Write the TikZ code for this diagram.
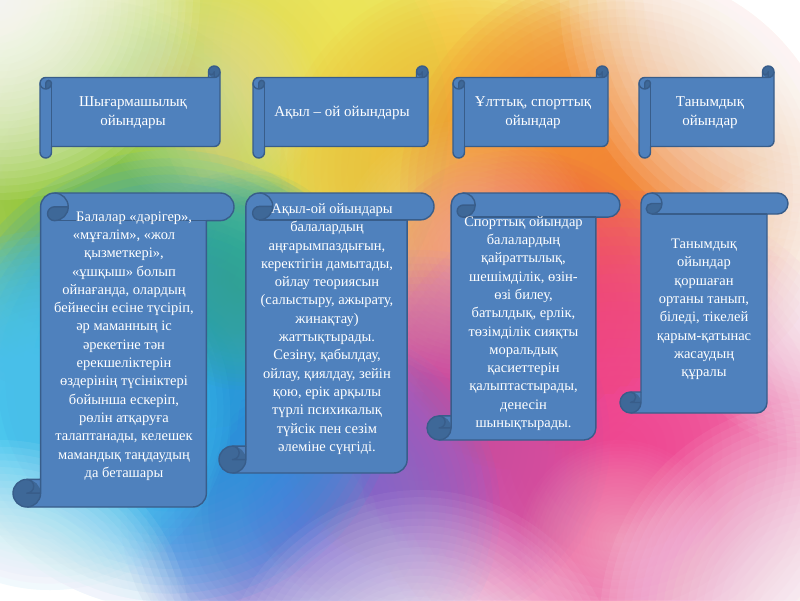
\documentclass[tikz,border=0pt]{standalone}
\usepackage{fontspec}
\setmainfont{Liberation Serif}
\definecolor{scrollblue}{HTML}{4F81BD}
\definecolor{scrollline}{HTML}{385D8A}
\definecolor{scrolldark}{HTML}{3E6898}
\definecolor{bglime}{HTML}{B5D334}
\definecolor{bggreen}{HTML}{94C83C}
\definecolor{bgyellow}{HTML}{F7E450}
\definecolor{bgamber}{HTML}{F3BC38}
\definecolor{bgorange}{HTML}{F28634}
\definecolor{bgred}{HTML}{F0604C}
\definecolor{bgpink}{HTML}{EE4290}
\definecolor{bgmagenta}{HTML}{C84CA8}
\definecolor{bgpurple}{HTML}{7E6ED0}
\definecolor{bgblue}{HTML}{1E98E2}
\definecolor{bgcyan}{HTML}{48C8F2}
\definecolor{bgteal}{HTML}{30AE96}
\tikzset{
  scrolledge/.style={draw=scrollline, line width=1.4pt, line join=round},
  toptext/.style={text=white, align=center, inner sep=0pt, font=\fontsize{15}{19}\selectfont},
  bodytext/.style={text=white, align=center, inner sep=0pt, font=\fontsize{14.5}{18.3}\selectfont}
}
% soft blob made of concentric translucent discs: x, y, radius, colour, opacity per ring
\newcommand{\softblob}[5]{%
  \foreach \k in {1,...,28}{\fill[#4, opacity=#5] (#1,#2) circle ({#3*(29-\k)/28});}}
\newcommand{\scrollcore}[2]{%
  \pgfmathsetmacro\scW{#1}%
  \pgfmathsetmacro\scH{#2}%
  \pgfmathsetmacro\scC{min(#1,#2)/8}%
  \pgfmathsetmacro\scCh{\scC/2}%
  \pgfmathsetmacro\scCq{\scC/4}%
  \fill[scrollblue] (\scC,\scCh) arc[start angle=180,end angle=270,radius=\scCh] -- ({\scW-\scCh},0) arc[start angle=270,end angle=450,radius=\scCh] -- ({\scW-\scC},\scC) -- ({\scW-\scC},{\scH-\scCh}) arc[start angle=0,end angle=90,radius=\scCh] -- (\scCh,\scH) arc[start angle=90,end angle=270,radius=\scCh] -- (\scC,{\scH-\scC}) -- cycle;
  \fill[scrolldark] ({2*\scC},\scCh) arc[start angle=0,end angle=90,radius=\scCh] arc[start angle=90,end angle=270,radius=\scCq] -- cycle;
  \fill[scrolldark] (\scCh,{\scH-\scCh}) circle[radius=\scCh];
  \draw[scrolledge] (\scC,\scCh) arc[start angle=180,end angle=270,radius=\scCh] -- ({\scW-\scCh},0) arc[start angle=270,end angle=450,radius=\scCh] -- ({\scW-\scC},\scC) -- ({\scW-\scC},{\scH-\scCh}) arc[start angle=0,end angle=90,radius=\scCh] -- (\scCh,\scH) arc[start angle=90,end angle=270,radius=\scCh] -- (\scC,{\scH-\scC}) -- cycle;
  \draw[scrolledge] ({1.5*\scC},0) arc[start angle=270,end angle=450,radius=\scCh] arc[start angle=90,end angle=270,radius=\scCq] -- ({2*\scC},\scCh);
  \draw[scrolledge] ({\scW-\scC},\scC) -- ({1.5*\scC},\scC);
  \draw[scrolledge] (\scCh,{\scH-\scC}) arc[start angle=270,end angle=450,radius=\scCq] -- (\scC,{\scH-\scCh});
  \draw[scrolledge] (\scCh,\scH) arc[start angle=90,end angle=0,radius=\scCh] -- (\scC,{\scH-\scC});
}
\newcommand{\vscroll}[4]{\begin{scope}[shift={(#1,#2)}]\scrollcore{#3}{#4}\end{scope}}
\newcommand{\hscroll}[4]{\begin{scope}[shift={(#1,#2)}, cm={0,-1,-1,0,(0,0)}]\scrollcore{#4}{#3}\end{scope}}
\begin{document}
\begin{tikzpicture}[x=1pt,y=-1pt]
\useasboundingbox (0,0) rectangle (800,600);
\begin{scope}
\clip (0,0) rectangle (800,600);
\fill[white] (0,0) rectangle (800,600);
\softblob{180}{130}{300}{bglime}{0.07}
\softblob{90}{200}{200}{bggreen}{0.10}
\softblob{400}{60}{250}{bgyellow}{0.08}
\softblob{470}{170}{190}{bgamber}{0.09}
\softblob{620}{190}{220}{bgorange}{0.10}
\softblob{520}{310}{160}{bgred}{0.09}
\softblob{620}{450}{260}{bgpink}{0.10}
\softblob{420}{440}{190}{bgmagenta}{0.09}
\softblob{310}{510}{190}{bgpurple}{0.09}
\softblob{170}{380}{230}{bgblue}{0.10}
\softblob{50}{410}{180}{bgcyan}{0.10}
\softblob{245}{280}{110}{bgteal}{0.07}
\softblob{0}{0}{200}{white}{0.08}
\softblob{820}{0}{260}{white}{0.08}
\softblob{820}{620}{220}{white}{0.06}
\softblob{0}{630}{190}{white}{0.07}
\softblob{420}{690}{200}{white}{0.05}
\softblob{820}{300}{150}{white}{0.05}
\softblob{210}{100}{110}{white}{0.02}
\softblob{470}{250}{130}{white}{0.02}
\softblob{620}{540}{100}{white}{0.02}
\end{scope}
% top horizontal scrolls
\hscroll{40}{66}{180}{92}
\hscroll{253}{66}{175}{92}
\hscroll{453}{66}{155}{92}
\hscroll{639}{66}{135}{92}
% bottom vertical scrolls
\vscroll{13}{193}{221}{314}
\vscroll{219}{193}{215}{280}
\vscroll{427}{193}{193}{247}
\vscroll{620}{193}{168}{220}
% texts
\node[toptext] (h1) at (133,112.5) {Шығармашылық\\ойындары};
\node[toptext] (h2) at (342,113) {Ақыл – ой ойындары};
\node[toptext] (h3) at (533,113) {Ұлттық, спорттық\\ойындар};
\node[toptext] (h4) at (710,113) {Танымдық\\ойындар};
\node[bodytext] (d1) at (124,346) {\hspace*{1.4em}Балалар «дәрігер»,\\«мұғалім», «жол\\қызметкері»,\\«ұшқыш» болып\\ойнағанда, олардың\\бейнесін есіне түсіріп,\\әр маманның іс\\әрекетіне тән\\ерекшеліктерін\\өздерінің түсініктері\\бойынша ескеріп,\\рөлін атқаруға\\талаптанады, келешек\\мамандық таңдаудың\\да беташары};
\node[bodytext] (d2) at (327,329) {\hspace*{0.7em}Ақыл-ой ойындары\\балалардың\\аңғарымпаздығын,\\керектігін дамытады,\\ойлау теориясын\\(салыстыру, ажырату,\\жинақтау)\\жаттықтырады.\\Сезіну, қабылдау,\\ойлау, қиялдау, зейін\\қою, ерік арқылы\\түрлі психикалық\\түйсік пен сезім\\әлеміне сүңгіді.};
\node[bodytext] (d3) at (523.5,323.5) {Спорттық ойындар\\балалардың\\қайраттылық,\\шешімділік, өзін-\\өзі билеу,\\батылдық, ерлік,\\төзімділік сияқты\\моральдық\\қасиеттерін\\қалыптастырады,\\денесін\\шынықтырады.};
\node[bodytext] (d4) at (704,309.5) {Танымдық\\ойындар\\қоршаған\\ортаны танып,\\біледі, тікелей\\қарым-қатынас\\жасаудың\\құралы};
\end{tikzpicture}
\end{document}
